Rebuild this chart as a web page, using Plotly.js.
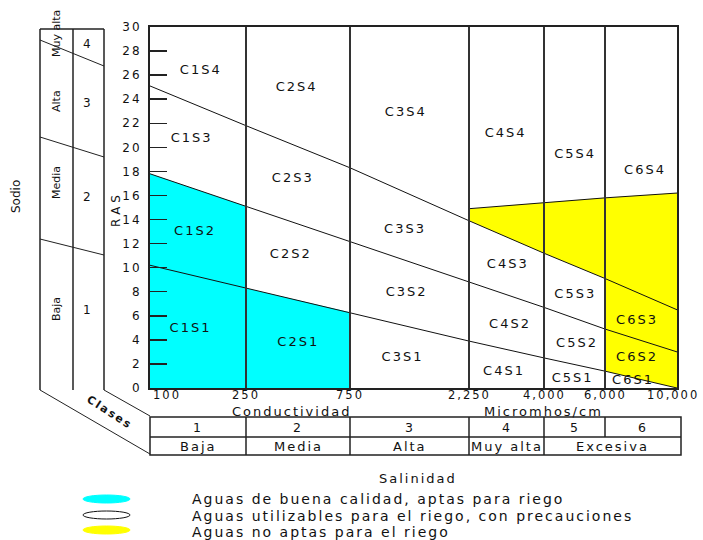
<!DOCTYPE html>
<html><head><meta charset="utf-8">
<script src="https://cdn.plot.ly/plotly-3.0.1.min.js"></script>
<style>
html,body{margin:0;padding:0;background:#fff;}
#chart{width:703px;height:540px;}
.main-svg text{letter-spacing:2px;}
.main-svg g[transform*="rotate(-90"] text{letter-spacing:0;}
</style></head><body><div id="chart"></div>
<script>
// ---- data ----
const conductivity = [100, 250, 750, 2250, 4000, 6000, 10000];
const conductivityLabels = ['100', '250', '750', '2,250', '4,000', '6,000', '10,000'];
// RAS values of the class boundary lines at each conductivity break
const rasS1S2 = [10.2, 8.3, 6.3, 3.9, 2.5, 1.4, 0];
const rasS2S3 = [17.8, 15.1, 12.2, 8.8, 6.7, 4.9, 3.0];
const rasS3S4 = [25.1, 21.8, 18.3, 13.9, 11.2, 9.1, 6.5];
const yellowCond = [2250, 4000, 6000, 10000];
const rasYellowTop = [14.9, 15.4, 15.8, 16.2];
const rasTicks = [0, 2, 4, 6, 8, 10, 12, 14, 16, 18, 20, 22, 24, 26, 28, 30];
const salinityClass = ['1', '2', '3', '4', '5', '6'];
const salinityName = ['Baja', 'Media', 'Alta', 'Muy alta', 'Excesiva'];
const sodiumClass = ['1', '2', '3', '4'];
const sodiumName = ['Baja', 'Media', 'Alta', 'Muy alta'];
const regionNames = ['C1S1','C1S2','C1S3','C1S4','C2S1','C2S2','C2S3','C2S4',
  'C3S1','C3S2','C3S3','C3S4','C4S1','C4S2','C4S3','C4S4',
  'C5S1','C5S2','C5S3','C5S4','C6S1','C6S2','C6S3','C6S4'];
const legendLabels = ['Aguas de buena calidad, aptas para riego',
  'Aguas utilizables para el riego, con precauciones',
  'Aguas no aptas para el riego'];

// ---- drawing scale (piecewise conductivity axis of the diagram) ----
const scalePos = [0, 0.96, 2.00, 3.19, 3.94, 4.55, 5.27];
const XMAX = 5.27;
function pos(c) {
  for (let i = 0; i < conductivity.length - 1; i++) {
    if (c <= conductivity[i + 1]) {
      const t = (c - conductivity[i]) / (conductivity[i + 1] - conductivity[i]);
      return scalePos[i] + t * (scalePos[i + 1] - scalePos[i]);
    }
  }
  return scalePos[scalePos.length - 1];
}
// layout helpers (pixel -> paper) for decorations outside the plot
const L = 150, T = 27, W = 527, H = 361;
const px = X => (X - L) / W;
const py = Y => (T + H - Y) / H;

// region label placement (axis units / RAS)
const regionPos = [[0.405,4.9],[0.45,13.0],[0.417,20.75],[0.508,26.4],
  [1.483,3.74],[1.408,11.06],[1.428,17.37],[1.467,24.96],
  [2.525,2.52],[2.567,7.95],[2.55,13.19],[2.558,22.88],
  [3.54,1.35],[3.60,5.24],[3.578,10.22],[3.557,21.09],
  [4.227,0.75],[4.27,3.66],[4.253,7.73],[4.252,19.37],
  [4.83,0.58],[4.87,2.49],[4.87,5.57],[4.95,18.04]];

const FONT = 'DejaVu Sans, Verdana, sans-serif';
const TXT = '#111';

// ---- traces ----
const cyanX = [100, 100, 250, 250, 750, 750].map(pos);
const cyanY = [0, rasS2S3[0], rasS2S3[1], rasS1S2[1], rasS1S2[2], 0];
const yx = yellowCond.map(pos).concat([pos(10000), pos(6000), pos(6000), pos(4000), pos(2250)]);
const yy = rasYellowTop.concat([rasS1S2[6], rasS1S2[5], rasS3S4[5], rasS3S4[4], rasS3S4[3]]);

const traces = [
  {x: cyanX, y: cyanY, fill: 'toself', fillcolor: '#00FFFF', mode: 'lines', line: {width: 0}, hoverinfo: 'skip'},
  {x: yx, y: yy, fill: 'toself', fillcolor: '#FFFF00', mode: 'lines', line: {width: 0}, hoverinfo: 'skip'},
  {x: conductivity.map(pos), y: rasS1S2, mode: 'lines', line: {color: '#111', width: 1}},
  {x: conductivity.map(pos), y: rasS2S3, mode: 'lines', line: {color: '#111', width: 1}},
  {x: conductivity.map(pos), y: rasS3S4, mode: 'lines', line: {color: '#111', width: 1}},
  {x: yellowCond.map(pos), y: rasYellowTop, mode: 'lines', line: {color: '#111', width: 1}},
  {x: regionPos.map(p => p[0]), y: regionPos.map(p => p[1]), text: regionNames, mode: 'text',
   textfont: {family: FONT, size: 13, color: TXT}, hoverinfo: 'skip', cliponaxis: false}
];

// ---- shapes ----
const shapes = [];
const ln = (x0, y0, x1, y1, w, c) => shapes.push({type: 'line', xref: 'paper', yref: 'paper',
  x0: px(x0), y0: py(y0), x1: px(x1), y1: py(y1), line: {color: c || '#222', width: w || 1.5}});
// class dividers inside plot
conductivity.slice(1, -1).forEach(c => shapes.push({type: 'line', xref: 'x', yref: 'paper',
  x0: pos(c), x1: pos(c), y0: 0, y1: 1, line: {color: '#333', width: 2}, layer: 'above'}));
// sodium panel
[40, 73, 104].forEach(X => ln(X, 29, X, 390, 1.5));
ln(40, 29, 104, 29, 1.5);
ln(40, 40, 104, 66, 1);
ln(40, 137, 104, 157, 1);
ln(40, 239, 104, 255, 1);
// "Clases" perspective
ln(40, 390, 150, 454, 1);
ln(104, 390, 150, 416, 1);
// salinity table
const tL = 150, tR = 681, tTop = 417, tMid = 437, tBot = 455;
shapes.push({type: 'rect', xref: 'paper', yref: 'paper', x0: px(tL), x1: px(tR), y0: py(tTop), y1: py(tBot),
  line: {color: '#222', width: 1.5}});
ln(tL, tMid, tR, tMid, 1.5);
conductivity.slice(1, 5).forEach(c => {
  const X = L + pos(c) / XMAX * W; ln(X, tTop, X, tBot, 1.5);
});
{ const X = L + pos(6000) / XMAX * W; ln(X, tTop, X, tMid, 1.5); }
// legend ellipses
const ell = [[495, 503, '#00FFFF', '#00FFFF'], [511, 519, '#ffffff', '#111'], [526, 534, '#FFFF00', '#FFFF00']];
ell.forEach(e => shapes.push({type: 'circle', xref: 'paper', yref: 'paper', x0: px(83), x1: px(130),
  y0: py(e[0]), y1: py(e[1]), fillcolor: e[2], line: {color: e[3], width: 1}}));

// ---- annotations ----
const ann = [];
const A = (X, Y, text, o) => ann.push(Object.assign({xref: 'paper', yref: 'paper', x: px(X), y: py(Y), text: text,
  showarrow: false, xanchor: 'center', yanchor: 'middle', font: {family: FONT, size: 13, color: TXT}}, o || {}));
// conductivity tick labels
conductivity.forEach((c, i) => ann.push({xref: 'x', yref: 'paper', x: pos(c), y: py(395.5), text: conductivityLabels[i],
  showarrow: false, xanchor: 'center', yanchor: 'middle', xshift: i === 0 ? 17 : (i === 6 ? -4 : 0),
  font: {family: FONT, size: 11.5, color: TXT}}));
A(291, 411.5, 'Conductividad', {font: {family: FONT, size: 13, color: TXT}});
A(543, 411.5, 'Micromhos/cm', {font: {family: FONT, size: 13, color: TXT}});
// table texts
const edges = conductivity.map(c => L + pos(c) / XMAX * W);
edges[0] = tL; edges[6] = tR;
salinityClass.forEach((s, i) => A((edges[i] + edges[i + 1]) / 2, 427.5, s, {font: {family: FONT, size: 12.5, color: TXT}}));
salinityName.forEach((s, i) => {
  const cx = i < 4 ? (edges[i] + edges[i + 1]) / 2 : (edges[4] + edges[6]) / 2;
  A(cx, 446.5, s, {font: {family: FONT, size: 13, color: TXT}});
});
A(418, 478, 'Salinidad');
// sodium panel texts
A(16, 197, 'Sodio', {textangle: -90, font: {family: FONT, size: 12, color: TXT}});
A(116, 211, 'R A S', {textangle: -90, font: {family: FONT, size: 12, color: TXT}});
const sodNameY = [309, 183, 101, 34];
const sodNumY = [310, 197, 103, 44];
sodiumName.forEach((s, i) => A(56, sodNameY[i], s, {textangle: -90, font: {family: FONT, size: 11, color: TXT}}));
sodiumClass.forEach((s, i) => A(88, sodNumY[i], s, {font: {family: FONT, size: 12, color: TXT}}));
A(110, 412, '<b>Clases</b>', {textangle: 33, font: {family: FONT, size: 11, color: TXT}});
// legend texts
const legY = [499, 516, 532];
legendLabels.forEach((s, i) => A(190, legY[i], s, {xanchor: 'left', align: 'left', font: {family: FONT, size: 14, color: TXT}}));

const layout = {
  width: 703, height: 540, margin: {l: L, r: 703 - L - W, t: T, b: 540 - T - H},
  paper_bgcolor: '#fff', plot_bgcolor: '#fff', showlegend: false,
  xaxis: {range: [0, XMAX], showticklabels: false, ticks: '', showgrid: false, zeroline: false,
    showline: true, mirror: true, linecolor: '#222', linewidth: 2, fixedrange: true},
  yaxis: {range: [0, 30], tickvals: rasTicks, ticks: 'inside', ticklen: 17, tickwidth: 1.5, tickcolor: '#222',
    showgrid: false, zeroline: false, showline: true, mirror: true, linecolor: '#222', linewidth: 2,
    tickfont: {family: FONT, size: 12, color: TXT}, ticklabelstandoff: 4, fixedrange: true},
  shapes: shapes, annotations: ann
};
Plotly.newPlot('chart', traces, layout, {displayModeBar: false, staticPlot: true});
</script></body></html>
